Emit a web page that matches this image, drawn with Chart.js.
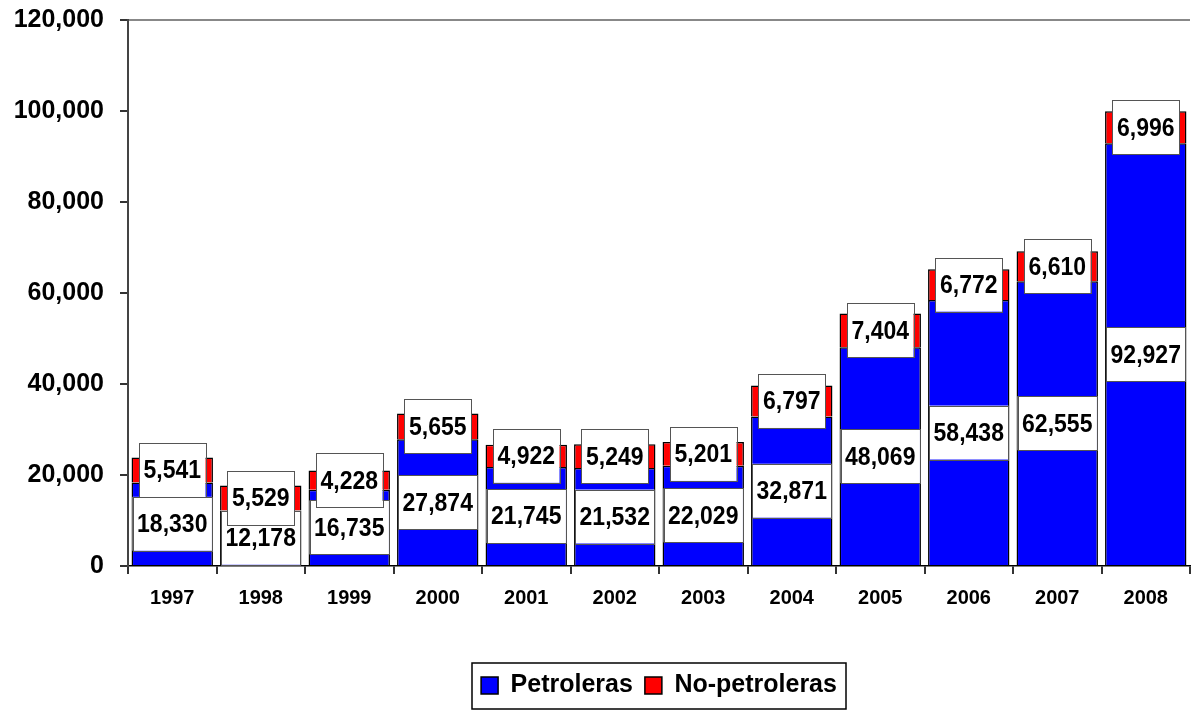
<!DOCTYPE html>
<html>
<head>
<meta charset="utf-8">
<script src="https://cdn.jsdelivr.net/npm/chart.js@4"></script>
<style>
html,body{margin:0;padding:0;background:#fff;}
#wrap{width:1193px;height:715px;position:relative;}
</style>
</head>
<body>
<div id="wrap"><canvas id="c" width="1193" height="715"></canvas></div>
<script>
const years = ['1997','1998','1999','2000','2001','2002','2003','2004','2005','2006','2007','2008'];
const petroleras = [18330, 12178, 16735, 27874, 21745, 21532, 22029, 32871, 48069, 58438, 62555, 92927];
const noPetroleras = [5541, 5529, 4228, 5655, 4922, 5249, 5201, 6797, 7404, 6772, 6610, 6996];
const seriesNames = ['Petroleras', 'No-petroleras'];
const yTicks = [0, 20000, 40000, 60000, 80000, 100000, 120000];

const FONT = "'Liberation Sans', Arial, sans-serif";
const fmt = v => v.toLocaleString('en-US');

const labelPlugin = {
  id: 'valueLabels',
  afterDatasetsDraw(chart) {
    const ctx = chart.ctx;
    ctx.save();
    chart.data.datasets.forEach((ds, di) => {
      const meta = chart.getDatasetMeta(di);
      meta.data.forEach((bar, i) => {
        const text = fmt(ds.data[i]);
        const cx = bar.x;
        const cy = (bar.y + bar.base) / 2;
        ctx.font = 'bold 23px ' + FONT;
        const tw = ctx.measureText(text).width;
        const w = tw + 9, h = 54;
        ctx.fillStyle = '#fff';
        ctx.fillRect(cx - w / 2, cy - h / 2, w, h);
        ctx.strokeStyle = '#555';
        ctx.lineWidth = 1;
        ctx.strokeRect(Math.round(cx - w / 2) + 0.5, Math.round(cy - h / 2) + 0.5, Math.round(w), h);
        ctx.save();
        ctx.translate(cx, cy);
        ctx.scale(1, 1.15);
        ctx.fillStyle = '#000';
        ctx.textAlign = 'center';
        ctx.textBaseline = 'middle';
        ctx.fillText(text, 0, 1);
        ctx.restore();
      });
    });
    ctx.restore();
  }
};

const legendBoxPlugin = {
  id: 'legendBox',
  afterDraw(chart) {
    const lg = chart.legend;
    if (!lg || !lg.legendHitBoxes || !lg.legendHitBoxes.length) return;
    const hb = lg.legendHitBoxes;
    let minX = Infinity, maxX = -Infinity, minY = Infinity, maxY = -Infinity;
    hb.forEach(b => {
      minX = Math.min(minX, b.left); maxX = Math.max(maxX, b.left + b.width);
      minY = Math.min(minY, b.top); maxY = Math.max(maxY, b.top + b.height);
    });
    const ctx = chart.ctx;
    ctx.save();
    ctx.strokeStyle = '#000';
    ctx.lineWidth = 1.5;
    const cy = (minY + maxY) / 2;
    ctx.strokeRect(Math.round(minX - 9), Math.round(cy - 23), Math.round(maxX - minX + 18), 46);
    ctx.restore();
  }
};

new Chart(document.getElementById('c'), {
  type: 'bar',
  data: {
    labels: years,
    datasets: [
      { label: seriesNames[0], data: petroleras, backgroundColor: '#0000FF', borderColor: '#000', borderWidth: 1.5, categoryPercentage: 0.92, barPercentage: 1.0 },
      { label: seriesNames[1], data: noPetroleras, backgroundColor: '#FF0000', borderColor: '#000', borderWidth: 1.5, categoryPercentage: 0.92, barPercentage: 1.0 }
    ]
  },
  options: {
    responsive: false,
    animation: false,
    devicePixelRatio: 1,
    layout: { padding: { top: 20, right: 3, left: 0, bottom: 7 } },
    plugins: {
      tooltip: { enabled: false },
      legend: {
        position: 'bottom',
        fullSize: false,
        labels: {
          font: { family: FONT, size: 25, weight: 'bold' },
          color: '#000',
          boxWidth: 17,
          boxHeight: 17,
          padding: 12
        }
      }
    },
    scales: {
      x: {
        stacked: true,
        afterFit(scale) { scale.height = 95; },
        grid: {
          offset: true,
          drawOnChartArea: true,
          color: c => (c.index === years.length ? '#888' : 'rgba(0,0,0,0)'),
          lineWidth: 2,
          tickColor: '#333',
          tickLength: 8
        },
        border: { display: true, color: '#000', width: 1.5 },
        ticks: {
          font: { family: FONT, size: 20, weight: 'bold' },
          color: '#000',
          padding: 12
        }
      },
      y: {
        stacked: true,
        min: 0,
        max: 120000,
        afterFit(scale) { scale.width = 128; scale.paddingTop = 0; scale.paddingBottom = 0; },
        afterBuildTicks(scale) { scale.ticks = yTicks.map(v => ({ value: v })); },
        grid: {
          color: c => (c.tick && c.tick.value === 120000 ? '#888' : 'rgba(0,0,0,0)'),
          lineWidth: 2,
          tickColor: '#333',
          tickLength: 8
        },
        border: { display: true, color: '#444', width: 2 },
        ticks: {
          font: { family: FONT, size: 25, weight: 'bold' },
          color: '#000',
          padding: 16,
          callback: v => fmt(v)
        }
      }
    }
  },
  plugins: [labelPlugin, legendBoxPlugin]
});
</script>
</body>
</html>
